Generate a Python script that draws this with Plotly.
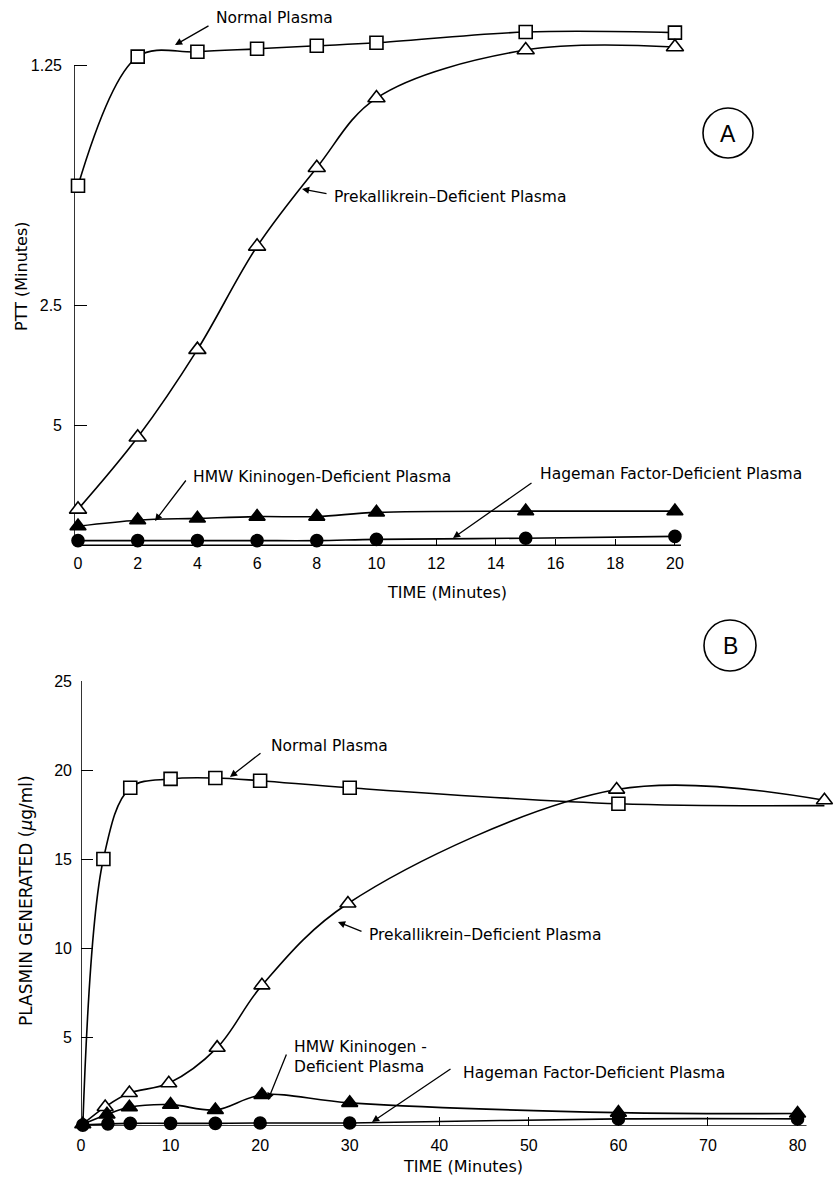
import plotly.graph_objects as go

# ---------------- data ----------------
# Panel A: clotting rate (1/PTT, read off the reciprocal PTT scale) vs time (min)
a_time = [0, 2, 4, 6, 8, 10, 15, 20]
a_normal = [0.599, 0.814, 0.822, 0.827, 0.832, 0.837, 0.855, 0.854]
a_prekal = [0.060, 0.180, 0.326, 0.498, 0.629, 0.745, 0.825, 0.830]
a_hmwk = [0.032, 0.042, 0.045, 0.048, 0.048, 0.055, 0.057, 0.057]
a_hageman = [0.008, 0.008, 0.008, 0.008, 0.008, 0.010, 0.012, 0.015]
a_tickvals = [0.8, 0.4, 0.2]
a_ticktext = ["1.25", "2.5", "5"]
a_low_tickvals = [0.072, 0.027, 0.0]
a_low_ticktext = ["10", "20", "40"]
a_xticks = [0, 2, 4, 6, 8, 10, 12, 14, 16, 18, 20]

# Panel B: plasmin generated (ug/ml) vs time (min)
b_normal_t = [0.2, 2.5, 5.5, 10, 15, 20, 30, 60, 83]
b_normal = [0.0, 15.0, 19.0, 19.5, 19.55, 19.4, 19.0, 18.1, 18.0]
b_prekal_t = [0.2, 2.7, 5.4, 9.8, 15.2, 20.2, 29.8, 59.8, 83]
b_prekal = [0.1, 1.07, 1.85, 2.4, 4.4, 7.9, 12.5, 18.9, 18.3]
b_hmwk_t = [0.2, 2.9, 5.4, 10, 15, 20.2, 30, 60, 80]
b_hmwk = [0.1, 0.65, 1.05, 1.2, 0.9, 1.75, 1.3, 0.75, 0.7]
b_hageman_t = [0.2, 3, 5.5, 10, 15, 20, 30, 60, 80]
b_hageman = [0.05, 0.12, 0.15, 0.15, 0.15, 0.17, 0.17, 0.4, 0.4]
b_yticks = [5, 10, 15, 20, 25]
b_xticks = [0, 10, 20, 30, 40, 50, 60, 70, 80]

W, H = 835, 1180
def fx(p):
    return p / W
def fy(p):
    return 1 - p / H

TXT = "DejaVu Sans"
TICK = dict(family="Liberation Sans", size=16, color="black")
LW = 1.6

fig = go.Figure()

def add(x, y, xa, ya, symbol, fill, size, sizes=None):
    fig.add_trace(go.Scatter(
        x=x, y=y, xaxis=xa, yaxis=ya, mode="lines+markers",
        line=dict(color="black", width=LW, shape="spline", smoothing=1.0),
        marker=dict(symbol=symbol, color=fill, size=sizes if sizes else size,
                    opacity=1, line=dict(color="black", width=1.6)),
        cliponaxis=False, showlegend=False, hoverinfo="skip"))

# Panel A
add(a_time, a_normal, "x", "y", "square", "white", 13)
add(a_time, a_prekal, "x", "y", "triangle-up", "white", 15)
add(a_time, a_hmwk, "x", "y", "triangle-up", "black", 14)
add(a_time, a_hageman, "x", "y", "circle", "black", 12)

# Panel B
n = len(b_normal_t)
add(b_normal_t, b_normal, "x2", "y2", "square", "white", 13, [0] + [13] * (n - 2) + [0])
add(b_prekal_t, b_prekal, "x2", "y2", "triangle-up", "white", 14, [0] + [14] * (len(b_prekal_t) - 1))
add(b_hmwk_t, b_hmwk, "x2", "y2", "triangle-up", "black", 14)
add(b_hageman_t, b_hageman, "x2", "y2", "circle", "black", 12)

a_xr = [-0.134, 20.84]
a_yr = [-0.001, 0.875]
b_xr = [0, 84.18]
b_yr = [0, 25]

common = dict(showgrid=False, zeroline=False, showline=False, automargin=False,
              tickcolor="black", tickwidth=1.2, tickfont=TICK)

fig.update_layout(
    width=W, height=H, margin=dict(l=0, r=0, t=0, b=0, autoexpand=False),
    paper_bgcolor="white", plot_bgcolor="white",
    xaxis=dict(domain=[fx(74), fx(700)], range=a_xr, anchor="y",
               tickvals=a_xticks, ticks="inside", ticklen=7,
               ticklabelstandoff=6, **common),
    yaxis=dict(domain=[fy(546), fy(20)], range=a_yr, anchor="x",
               tickvals=a_tickvals, ticktext=a_ticktext, ticks="inside",
               ticklen=13, ticklabelstandoff=11, **common),
    yaxis3=dict(domain=[fy(546), fy(20)], range=a_yr, anchor="x", overlaying="y",
                side="left", tickvals=a_low_tickvals, ticktext=a_low_ticktext,
                ticks="", ticklabelstandoff=11, **common),
    xaxis2=dict(domain=[fx(81), 1.0], range=b_xr, anchor="y2",
                tickvals=b_xticks, ticks="inside", ticklen=9,
                ticklabelstandoff=8, **common),
    yaxis2=dict(domain=[fy(1126), fy(681)], range=b_yr, anchor="x2",
                tickvals=b_yticks, ticks="inside", ticklen=12,
                ticklabelstandoff=8, **common),
)

shapes = [
    # axis lines panel A
    dict(type="line", xref="x", yref="y", x0=a_xr[0], x1=a_xr[0], y0=0, y1=0.8),
    dict(type="line", xref="x", yref="y", x0=a_xr[0], x1=20.2, y0=0, y1=0),
    # axis lines panel B
    dict(type="line", xref="x2", yref="y2", x0=0, x1=0, y0=0, y1=25),
    dict(type="line", xref="x2", yref="y2", x0=0, x1=81, y0=0, y1=0),
    # circled panel letters
    dict(type="circle", xref="paper", yref="paper",
         x0=fx(703), x1=fx(753), y0=fy(158), y1=fy(108)),
    dict(type="circle", xref="paper", yref="paper",
         x0=fx(704), x1=fx(756), y0=fy(671), y1=fy(620)),
]
for s in shapes:
    s["line"] = dict(color="black", width=1.6)
    s["layer"] = "below"
fig.update_layout(shapes=shapes)

ann = []
def label(text, x, y, size=15.5, anchor="left", angle=0, family=TXT):
    ann.append(dict(text=text, x=fx(x), y=fy(y), xref="paper", yref="paper",
                    showarrow=False, xanchor=anchor, yanchor="middle",
                    textangle=angle, align="left",
                    font=dict(family=family, size=size, color="black")))

def arrow(tail, head):
    ann.append(dict(text="", x=fx(head[0]), y=fy(head[1]), xref="paper", yref="paper",
                    ax=tail[0] - head[0], ay=tail[1] - head[1], showarrow=True,
                    arrowhead=2, arrowsize=1.1, arrowwidth=1.3, arrowcolor="black",
                    standoff=0))

# Panel A labels
label("Normal Plasma", 214, 18)
arrow((210, 25), (175, 45))
label("Prekallikrein–Deficient Plasma", 332, 197)
arrow((328, 194), (302, 189))
label("HMW Kininogen-Deficient Plasma", 191, 477)
arrow((187, 479), (155, 521))
label("Hageman Factor-Deficient Plasma", 538, 474)
arrow((533, 482), (453, 538))
label("A", 728, 134, size=23, anchor="center", family="Liberation Sans")
label("PTT (Minutes)", 21, 277, size=16, anchor="center", angle=-90)
label("TIME (Minutes)", 447, 592, size=16, anchor="center")

# Panel B labels
label("Normal Plasma", 269, 746)
arrow((262, 752), (230, 777))
label("Prekallikrein–Deficient Plasma", 367, 935)
arrow((363, 932), (338, 922))
label("HMW Kininogen -<br>Deficient Plasma", 292, 1057)
arrow((287, 1053), (268, 1100))
label("Hageman Factor-Deficient Plasma", 461, 1073)
arrow((452, 1068), (372, 1122))
label("B", 730, 646, size=23, anchor="center", family="Liberation Sans")
label("PLASMIN GENERATED (<i>μ</i>g/ml)", 26, 901, size=17, anchor="center", angle=-90)
label("TIME (Minutes)", 463, 1166, size=16, anchor="center")

fig.update_layout(annotations=ann)

fig.write_html("out.html", config={"displayModeBar": False},
               post_script="document.body.style.margin='0';document.body.style.overflow='hidden';")
